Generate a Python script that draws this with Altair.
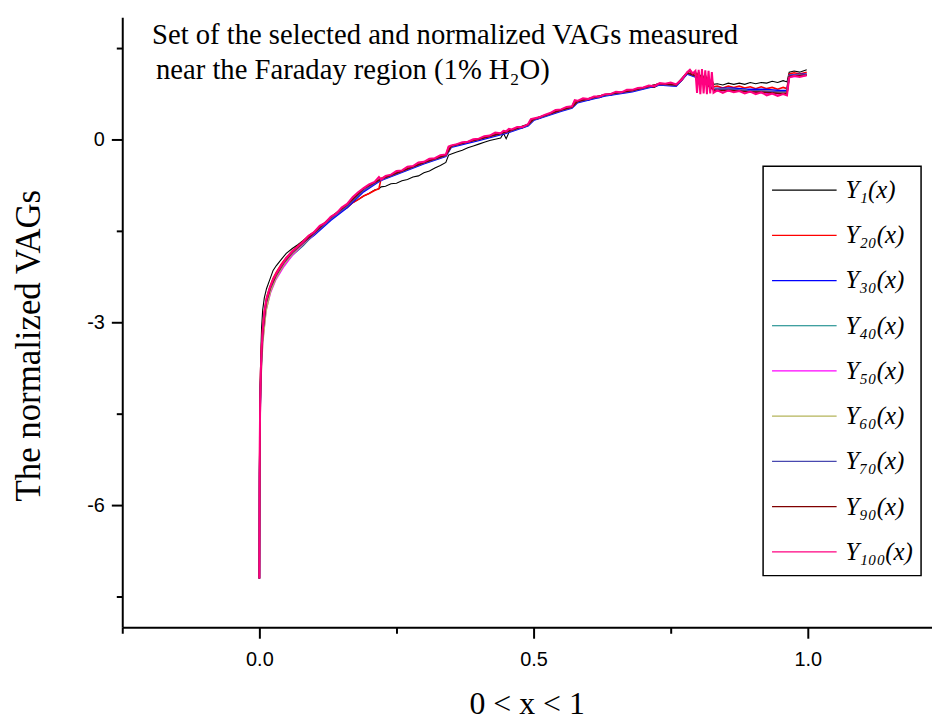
import altair as alt
import pandas as pd

SERIES = ["Y₁(x)", "Y₂₀(x)", "Y₃₀(x)", "Y₄₀(x)", "Y₅₀(x)", "Y₆₀(x)", "Y₇₀(x)", "Y₉₀(x)", "Y₁₀₀(x)"]
COLORS = ["#000000", "#FF0000", "#0000FF", "#008080", "#FF00FF", "#B4B45A", "#4848B0", "#800000", "#FF0080"]
WIDTHS = [1.1, 1.6, 1.6, 1.6, 1.6, 1.6, 1.6, 1.6, 2.0]

TITLE_1 = "Set of the selected and normalized VAGs measured"
TITLE_2 = "near the Faraday region (1% H₂O)"
X_TITLE = "0 < x < 1"
Y_TITLE = "The normalized VAGs"

X_FINE = [0, 0.0003, 0.0008, 0.0015, 0.0025, 0.004, 0.006, 0.009, 0.013, 0.019,
          0.025, 0.031, 0.04, 0.049, 0.06, 0.07, 0.08, 0.09, 0.10, 0.11,
          0.12, 0.13, 0.14, 0.15, 0.16, 0.17, 0.18, 0.19, 0.20, 0.21,
          0.218, 0.222, 0.23, 0.24, 0.25, 0.26, 0.27, 0.28, 0.29, 0.30,
          0.31, 0.32, 0.33, 0.34, 0.345, 0.35, 0.36, 0.37, 0.38, 0.39,
          0.40, 0.41, 0.42, 0.43, 0.44, 0.445, 0.45, 0.455, 0.46, 0.47,
          0.48, 0.49, 0.495, 0.50, 0.51, 0.52, 0.53, 0.54, 0.55, 0.56,
          0.57, 0.575, 0.58, 0.59, 0.60, 0.61, 0.62, 0.63, 0.64, 0.65,
          0.66, 0.67, 0.68, 0.69, 0.70, 0.71, 0.72, 0.73, 0.74, 0.75,
          0.76, 0.77, 0.78, 0.785, 0.79, 0.795, 0.798, 0.801, 0.804, 0.807,
          0.810, 0.813, 0.816, 0.819, 0.822, 0.825, 0.828, 0.835, 0.845, 0.855,
          0.865, 0.875, 0.885, 0.895, 0.905, 0.915, 0.925, 0.935, 0.945, 0.955,
          0.962, 0.966, 0.975, 0.985, 0.998]

Y1 = [-7.2, -5.5, -4.6, -4.0, -3.55, -3.1, -2.8, -2.6, -2.45, -2.3,
      -2.15, -2.07, -1.97, -1.87, -1.79, -1.73, -1.66, -1.58, -1.52, -1.44,
      -1.38, -1.30, -1.25, -1.17, -1.12, -1.04, -0.99, -0.93, -0.89, -0.83,
      -0.81, -0.78, -0.77, -0.73, -0.72, -0.68, -0.66, -0.62, -0.60, -0.55,
      -0.52, -0.47, -0.43, -0.38, -0.26, -0.24, -0.21, -0.18, -0.14, -0.11,
      -0.08, -0.05, -0.02, 0.0, 0.02, 0.10, 0.01, 0.11, 0.15, 0.18,
      0.19, 0.23, 0.31, 0.32, 0.34, 0.38, 0.41, 0.46, 0.47, 0.51,
      0.52, 0.61, 0.61, 0.65, 0.64, 0.68, 0.68, 0.72, 0.72, 0.76,
      0.75, 0.79, 0.79, 0.82, 0.83, 0.86, 0.85, 0.90, 0.89, 0.91,
      0.88, 0.96, 1.08, 1.12, 1.06, 1.10, 1.05, 1.10, 1.02, 1.08,
      1.00, 1.06, 0.98, 1.02, 0.95, 0.98, 0.90, 0.91, 0.89, 0.92,
      0.90, 0.92, 0.90, 0.93, 0.91, 0.93, 0.92, 0.95, 0.93, 0.96,
      0.94, 1.10, 1.12, 1.10, 1.14]

Y20 = [-7.2, -5.7, -4.8, -4.2, -3.75, -3.38, -3.1, -2.82, -2.6, -2.42,
       -2.28, -2.18, -2.05, -1.94, -1.83, -1.75, -1.67, -1.58, -1.52, -1.43,
       -1.37, -1.29, -1.24, -1.17, -1.12, -1.04, -0.99, -0.93, -0.89, -0.84,
       -0.81, -0.64, -0.61, -0.59, -0.53, -0.52, -0.46, -0.45, -0.39, -0.38,
       -0.33, -0.32, -0.27, -0.26, -0.13, -0.11, -0.09, -0.06, -0.05, -0.01,
       0.0, 0.04, 0.05, 0.10, 0.09, 0.13, 0.12, 0.16, 0.15, 0.19,
       0.19, 0.24, 0.32, 0.33, 0.35, 0.39, 0.42, 0.47, 0.48, 0.52,
       0.53, 0.63, 0.62, 0.66, 0.65, 0.69, 0.69, 0.73, 0.73, 0.77,
       0.76, 0.80, 0.80, 0.83, 0.84, 0.87, 0.86, 0.91, 0.90, 0.92,
       0.89, 0.97, 1.09, 1.13, 1.07, 1.11, 1.00, 1.10, 0.95, 1.08,
       0.92, 1.06, 0.90, 1.02, 0.88, 0.98, 0.86, 0.87, 0.84, 0.87,
       0.85, 0.87, 0.84, 0.86, 0.83, 0.86, 0.83, 0.85, 0.82, 0.85,
       0.83, 1.07, 1.09, 1.07, 1.10]

Y100 = [-7.2, -5.8, -4.9, -4.3, -3.85, -3.45, -3.15, -2.85, -2.62, -2.44,
        -2.3, -2.2, -2.07, -1.95, -1.84, -1.76, -1.68, -1.58, -1.52, -1.42,
        -1.37, -1.27, -1.22, -1.12, -1.06, -0.95, -0.87, -0.80, -0.74, -0.70,
        -0.62, -0.66, -0.60, -0.58, -0.52, -0.51, -0.45, -0.44, -0.38, -0.37,
        -0.32, -0.31, -0.26, -0.25, -0.12, -0.10, -0.08, -0.05, -0.04, 0.0,
        0.01, 0.05, 0.06, 0.11, 0.10, 0.14, 0.13, 0.17, 0.16, 0.20,
        0.20, 0.25, 0.33, 0.34, 0.36, 0.40, 0.43, 0.48, 0.49, 0.53,
        0.54, 0.64, 0.63, 0.67, 0.66, 0.70, 0.70, 0.74, 0.74, 0.78,
        0.77, 0.81, 0.81, 0.84, 0.85, 0.88, 0.87, 0.92, 0.91, 0.93,
        0.90, 0.98, 1.10, 1.14, 1.08, 1.12, 0.76, 1.14, 0.74, 1.15,
        0.75, 1.13, 0.74, 1.12, 0.75, 1.10, 0.76, 0.80, 0.76, 0.80,
        0.77, 0.79, 0.75, 0.78, 0.74, 0.77, 0.72, 0.75, 0.71, 0.74,
        0.72, 1.01, 1.04, 1.02, 1.05]

X_COARSE = [0, 0.0005, 0.0015, 0.003, 0.006, 0.012, 0.02, 0.03, 0.045, 0.06,
            0.08, 0.10, 0.13, 0.16, 0.19, 0.22, 0.26, 0.30, 0.34, 0.35,
            0.40, 0.45, 0.49, 0.50, 0.55, 0.57, 0.58, 0.63, 0.68, 0.73,
            0.76, 0.78, 0.795, 0.83, 0.86, 0.89, 0.92, 0.95, 0.962, 0.966,
            0.98, 0.998]

Y30 = [-7.2, -5.5, -4.4, -3.78, -3.22, -2.72, -2.46, -2.25, -2.02, -1.86,
       -1.71, -1.57, -1.33, -1.12, -0.86, -0.68, -0.54, -0.40, -0.28, -0.13,
       -0.02, 0.10, 0.22, 0.31, 0.46, 0.51, 0.60, 0.71, 0.78, 0.89,
       0.87, 1.07, 1.02, 0.83, 0.84, 0.82, 0.82, 0.80, 0.80, 1.05,
       1.06, 1.07]
Y40 = [-7.2, -5.45, -4.35, -3.74, -3.2, -2.7, -2.45, -2.25, -2.04, -1.9,
       -1.74, -1.55, -1.29, -1.08, -0.82, -0.66, -0.52, -0.38, -0.26, -0.11,
       0.0, 0.12, 0.24, 0.33, 0.48, 0.53, 0.62, 0.73, 0.80, 0.91,
       0.89, 1.09, 1.04, 0.81, 0.81, 0.79, 0.78, 0.76, 0.76, 1.03,
       1.04, 1.06]
Y50 = [-7.2, -5.6, -4.5, -3.85, -3.3, -2.8, -2.52, -2.3, -2.08, -1.9,
       -1.72, -1.55, -1.29, -1.07, -0.82, -0.66, -0.52, -0.38, -0.26, -0.11,
       0.0, 0.12, 0.24, 0.33, 0.48, 0.53, 0.62, 0.73, 0.80, 0.91,
       0.89, 1.09, 1.04, 0.79, 0.80, 0.78, 0.76, 0.74, 0.74, 1.02,
       1.03, 1.05]
Y60 = [-7.2, -5.6, -4.5, -3.9, -3.35, -2.82, -2.5, -2.28, -2.05, -1.88,
       -1.71, -1.54, -1.28, -1.07, -0.81, -0.66, -0.52, -0.38, -0.26, -0.11,
       0.0, 0.12, 0.24, 0.33, 0.48, 0.53, 0.62, 0.73, 0.80, 0.91,
       0.89, 1.09, 1.04, 0.82, 0.82, 0.80, 0.79, 0.77, 0.77, 1.04,
       1.05, 1.06]
Y70 = [-7.2, -5.45, -4.35, -3.74, -3.18, -2.69, -2.44, -2.24, -2.02, -1.86,
       -1.70, -1.55, -1.31, -1.10, -0.84, -0.67, -0.53, -0.39, -0.27, -0.12,
       0.0, 0.11, 0.23, 0.32, 0.47, 0.52, 0.61, 0.72, 0.79, 0.90,
       0.88, 1.08, 1.03, 0.81, 0.82, 0.80, 0.79, 0.78, 0.78, 1.04,
       1.05, 1.06]
Y90 = [-7.2, -5.4, -4.3, -3.72, -3.17, -2.68, -2.43, -2.23, -2.01, -1.85,
       -1.69, -1.53, -1.28, -1.07, -0.81, -0.66, -0.52, -0.38, -0.26, -0.11,
       0.0, 0.12, 0.24, 0.33, 0.48, 0.53, 0.62, 0.73, 0.80, 0.91,
       0.89, 1.09, 1.04, 0.80, 0.80, 0.78, 0.77, 0.75, 0.75, 1.03,
       1.04, 1.05]

X_TICKS = [-0.25, 0, 0.25, 0.5, 0.75, 1.0]
Y_TICKS = [-7.5, -6, -4.5, -3, -1.5, 0, 1.5]

series_data = [
    (SERIES[0], X_FINE, Y1),
    (SERIES[1], X_FINE, Y20),
    (SERIES[2], X_COARSE, Y30),
    (SERIES[3], X_COARSE, Y40),
    (SERIES[4], X_COARSE, Y50),
    (SERIES[5], X_COARSE, Y60),
    (SERIES[6], X_COARSE, Y70),
    (SERIES[7], X_COARSE, Y90),
    (SERIES[8], X_FINE, Y100),
]

x_enc = alt.X(
    "x:Q",
    scale=alt.Scale(domain=[-0.25, 1.2264], nice=False, zero=False),
    axis=alt.Axis(
        values=X_TICKS,
        labelExpr="datum.value % 0.5 === 0 ? format(datum.value, '.1f') : ''",
        tickSize={"condition": {"test": "datum.value % 0.5 === 0", "value": 11}, "value": 6},
        tickWidth=2, tickColor="black", domainWidth=2, domainColor="black",
        labelFont="Liberation Sans", labelFontSize=20, labelColor="black",
        labelPadding=11, labelFlush=False, grid=False,
        title=X_TITLE, titleFont="Liberation Serif", titleFontSize=32,
        titleFontWeight="normal", titleColor="black",
        titleX=407, titleY=87, titleBaseline="alphabetic", titleAlign="center",
    ),
)
y_enc = alt.Y(
    "y:Q",
    scale=alt.Scale(domain=[-8, 2], nice=False, zero=False),
    axis=alt.Axis(
        values=Y_TICKS,
        labelExpr="datum.value % 3 === 0 ? '' + datum.value : ''",
        tickSize={"condition": {"test": "datum.value % 3 === 0", "value": 11}, "value": 6},
        tickWidth=2, tickColor="black", domainWidth=2, domainColor="black",
        labelFont="Liberation Sans", labelFontSize=20, labelColor="black",
        labelPadding=7, grid=False,
        title=Y_TITLE, titleFont="Liberation Serif", titleFontSize=35,
        titleFontWeight="normal", titleColor="black",
        titleX=-83, titleY=330, titleBaseline="alphabetic", titleAlign="center",
        titleAngle=270,
    ),
)
color_enc = alt.Color(
    "series:N",
    scale=alt.Scale(domain=SERIES, range=COLORS),
    legend=alt.Legend(
        title=None, orient="none", legendX=645, legendY=150,
        symbolType="stroke", symbolSize=4225, symbolStrokeWidth=1.2,
        labelFont="Liberation Serif", labelFontSize=25, labelFontStyle="italic",
        labelColor="black", labelOffset=8, strokeColor="black",
        fillColor="white", padding=8, rowPadding=13.5, clipHeight=32,
    ),
)

layers = []
for (name, xs, ys), sw in zip(series_data, WIDTHS):
    assert len(xs) == len(ys), (name, len(xs), len(ys))
    df = pd.DataFrame({"x": xs, "y": ys, "series": name})
    layers.append(
        alt.Chart(df).mark_line(strokeWidth=sw).encode(x=x_enc, y=y_enc, color=color_enc)
    )

t1 = alt.Chart(pd.DataFrame({"t": [TITLE_1]})).mark_text(
    align="left", baseline="alphabetic", font="Liberation Serif", fontSize=28.8, color="black"
).encode(text="t:N", x=alt.value(30), y=alt.value(27))
t2 = alt.Chart(pd.DataFrame({"t": [TITLE_2]})).mark_text(
    align="left", baseline="alphabetic", font="Liberation Serif", fontSize=28.8, color="black"
).encode(text="t:N", x=alt.value(34), y=alt.value(62))

chart = alt.layer(*layers, t1, t2).properties(
    width=815, height=614,
    autosize=alt.AutoSizeParams(type="none"),
    padding={"left": 115, "top": 7, "right": 0, "bottom": 92},
).configure_view(stroke=None).configure_legend(strokeWidth=1.5)

chart.save("out.html", embed_options={"renderer": "svg", "actions": False})
